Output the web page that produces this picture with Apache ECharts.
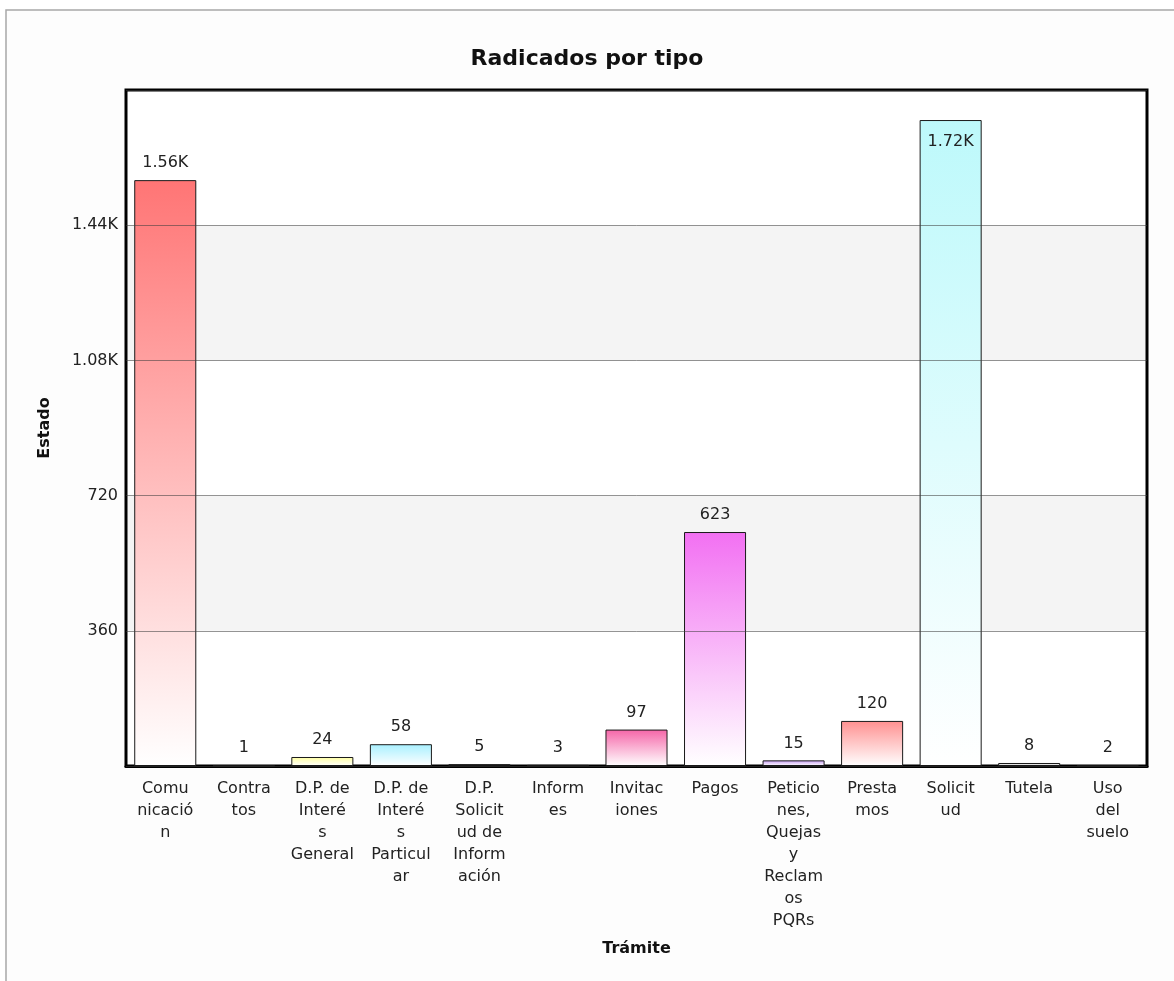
<!DOCTYPE html>
<html>
<head>
<meta charset="utf-8">
<script src="https://cdn.jsdelivr.net/npm/echarts@6/dist/echarts.min.js"></script>
<style>html,body{margin:0;padding:0;background:#fff}#c{width:1174px;height:981px}</style>
</head>
<body>
<div id="c"></div>
<script>
const categories = ['Comunicación','Contratos','D.P. de Interés General','D.P. de Interés Particular','D.P. Solicitud de Información','Informes','Invitaciones','Pagos','Peticiones, Quejas y Reclamos PQRs','Prestamos','Solicitud','Tutela','Uso del suelo'];
const tickLabels = ['Comu\nnicació\nn','Contra\ntos','D.P. de\nInteré\ns\nGeneral','D.P. de\nInteré\ns\nParticul\nar','D.P.\nSolicit\nud de\nInform\nación','Inform\nes','Invitac\niones','Pagos','Peticio\nnes,\nQuejas\ny\nReclam\nos\nPQRs','Presta\nmos','Solicit\nud','Tutela','Uso\ndel\nsuelo'];
const values = [1560, 1, 24, 58, 5, 3, 97, 623, 15, 120, 1720, 8, 2];
const barColors = ['#ff7575','#333333','#ffffa0','#a8f0ff','#c4c4c4','#444444','#f565a8','#f270f2','#c79cf5','#ff9090','#bdf9fb','#c8c8c8','#333333'];
const yTicks = [0, 360, 720, 1080, 1440, 1800];

function fmt(v){ return v >= 1000 ? (v/1000).toFixed(2) + 'K' : String(v); }

const chart = echarts.init(document.getElementById('c'));
const FONT = 'DejaVu Sans';
chart.setOption({
  backgroundColor: '#ffffff',
  animation: false,
  graphic: [{
    type: 'rect', z: -10, silent: true,
    shape: {x: 6, y: 10, width: 1200, height: 1000},
    style: {fill: '#fdfdfd', stroke: '#a8a8a8', lineWidth: 1.5}
  }],
  title: {
    text: 'Radicados por tipo', left: 'center', top: 43,
    textStyle: {fontFamily: FONT, fontSize: 22, fontWeight: 'bold', color: '#111'}
  },
  grid: {
    left: 126, right: 27, top: 90, bottom: 215,
    show: true, borderColor: '#000', borderWidth: 3, z: 1
  },
  xAxis: {
    type: 'category', data: categories,
    name: 'Trámite', nameLocation: 'middle', nameGap: 175,
    nameTextStyle: {fontFamily: FONT, fontSize: 16, fontWeight: 'bold', color: '#111'},
    axisLine: {show: true, lineStyle: {color: '#000', width: 3}},
    axisTick: {show: false},
    axisLabel: {
      interval: 0, margin: 12, lineHeight: 22,
      fontFamily: FONT, fontSize: 16, color: '#222',
      formatter: function(v, i){ return tickLabels[i]; }
    }
  },
  yAxis: [{
    type: 'value', min: yTicks[0], max: yTicks[yTicks.length-1], interval: yTicks[1]-yTicks[0],
    name: 'Estado', nameLocation: 'middle', nameGap: 73, nameRotate: 90,
    nameTextStyle: {fontFamily: FONT, fontSize: 16, fontWeight: 'bold', color: '#111'},
    axisLine: {show: false}, axisTick: {show: false},
    axisLabel: {
      margin: 8, fontFamily: FONT, fontSize: 16, color: '#222',
      formatter: function(v){ return (v === yTicks[0] || v === yTicks[yTicks.length-1]) ? '' : fmt(v); }
    },
    splitLine: {show: false},
    splitArea: {show: true, areaStyle: {color: ['#ffffff', '#f4f4f4']}}
  }, {
    type: 'value', min: yTicks[0], max: yTicks[yTicks.length-1], interval: yTicks[1]-yTicks[0],
    position: 'left', z: 5,
    axisLine: {show: false}, axisTick: {show: false}, axisLabel: {show: false},
    splitLine: {show: true, lineStyle: {color: 'rgba(60,60,60,0.55)', width: 1}},
    splitArea: {show: false}
  }],
  series: [{
    type: 'bar', yAxisIndex: 0, barWidth: '79%', z: 3,
    data: values.map(function(v, i){
      return {
        value: v,
        itemStyle: {
          color: new echarts.graphic.LinearGradient(0, 0, 0, 1, [
            {offset: 0, color: barColors[i]},
            {offset: 1, color: '#ffffff'}
          ]),
          borderColor: '#1a1a1a', borderWidth: 1
        },
        label: v > 1650 ? {position: 'insideTop', distance: 14} : {}
      };
    }),
    label: {
      show: true, position: 'top', distance: 9,
      fontFamily: FONT, fontSize: 16, color: '#222',
      formatter: function(p){ return fmt(p.value); }
    }
  }]
});
</script>
</body>
</html>
